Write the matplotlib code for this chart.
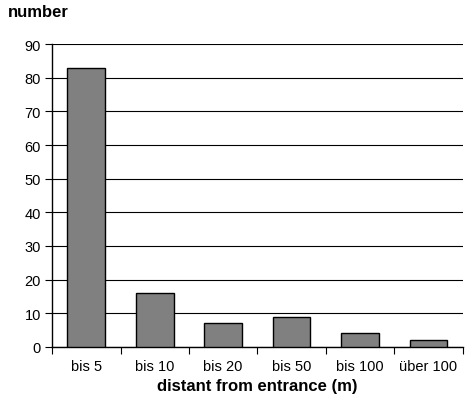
import matplotlib.pyplot as plt

plt.rcParams['font.family'] = ['Liberation Sans', 'DejaVu Sans']

categories = ['bis 5', 'bis 10', 'bis 20', 'bis 50', 'bis 100', 'über 100']
counts = [83, 16, 7, 9, 4, 2]

fig = plt.figure(figsize=(4.65, 4.06), dpi=100)
ax = fig.add_axes([0.112, 0.143, 0.883, 0.746])

x = range(len(categories))
ax.bar(x, counts, width=0.55, color='#808080', edgecolor='black', linewidth=1, zorder=3)

ax.set_xlim(-0.5, len(categories) - 0.5)
ax.set_ylim(0, 90)
ax.set_yticks(range(0, 91, 10))
ax.yaxis.grid(True, color='black', linewidth=0.8, zorder=0)

# ticks on the category boundaries, labels centred under bars
ax.set_xticks([i - 0.5 for i in range(len(categories) + 1)])
ax.set_xticklabels([])
ax.set_xticks(list(x), minor=True)
ax.set_xticklabels(categories, minor=True, fontsize=10.5)
ax.tick_params(axis='x', which='minor', length=0, pad=9)
ax.tick_params(axis='x', which='major', length=5, direction='out', color='black')
ax.tick_params(axis='y', length=5, labelsize=10.5, pad=3)

for s in ['top', 'right']:
    ax.spines[s].set_visible(False)
ax.spines['left'].set_linewidth(1)
ax.spines['bottom'].set_linewidth(1)

ax.set_xlabel('distant from entrance (m)', fontsize=12, fontweight='bold', labelpad=3)
fig.text(0.017, 0.97, 'number', fontsize=12, fontweight='bold', va='center', ha='left')

plt.savefig('out.png', dpi=100)
